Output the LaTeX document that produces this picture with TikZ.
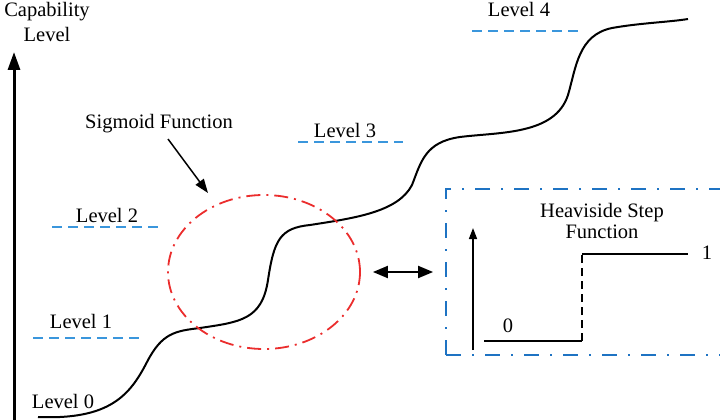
\documentclass[tikz,border=0pt]{standalone}
\usepackage{fontspec}
\setmainfont{Liberation Serif}
\usetikzlibrary{arrows.meta,shapes.geometric}
\definecolor{levelblue}{RGB}{58,150,220}
\definecolor{boxblue}{RGB}{30,115,195}
\definecolor{sigred}{RGB}{235,45,45}
\tikzset{
  lbl/.style={anchor=base, inner sep=0pt, font=\fontsize{20.5}{24}\selectfont},
  levelline/.style={levelblue, line width=1.4pt, dash pattern=on 10pt off 6pt},
  curveline/.style={black, line width=2pt},
  bigarrow/.style={line width=3pt, -{Triangle[length=18pt,width=12pt]}},
  pointer/.style={line width=1.5pt, -{Triangle[length=14pt,width=10pt]}},
  twoway/.style={line width=2pt, {Triangle[length=15pt,width=12pt]}-{Triangle[length=15pt,width=12pt]}},
  smallarrow/.style={line width=1.5pt, -{Triangle[length=11pt,width=8pt]}},
  stepline/.style={line width=1.6pt},
  sigzone/.style={ellipse, draw=sigred, line width=1.8pt, minimum width=192pt, minimum height=154pt,
    dash pattern=on 14pt off 6pt on 2pt off 6pt},
  stepbox/.style={rectangle, draw=boxblue, line width=1.8pt, minimum width=290pt, minimum height=166pt,
    dash pattern=on 15pt off 11pt on 2pt off 11pt}
}
\begin{document}
\begin{tikzpicture}[x=1pt, y=-1pt]
\useasboundingbox (0,0) rectangle (720,420);

% capability axis
\coordinate (axisbot) at (14,420);
\coordinate (axistop) at (14,52);
\draw[bigarrow] (axisbot) -- (axistop);
\node[lbl] (captitle) at (47,17) {Capability};
\node[lbl] (caplevel) at (47,42) {Level};

% level markers
\node[lbl] (l0) at (63,408) {Level 0};
\node[lbl] (l1) at (81,328) {Level 1};
\coordinate (l1a) at (33,338); \coordinate (l1b) at (140,338);
\draw[levelline] (l1a) -- (l1b);
\node[lbl] (l2) at (107,222) {Level 2};
\coordinate (l2a) at (52,227); \coordinate (l2b) at (158,227);
\draw[levelline] (l2a) -- (l2b);
\node[lbl] (l3) at (345,137) {Level 3};
\coordinate (l3a) at (298,142); \coordinate (l3b) at (403,142);
\draw[levelline] (l3a) -- (l3b);
\node[lbl] (l4) at (519,17) {Level 4};
\coordinate (l4a) at (472,31); \coordinate (l4b) at (578,31);
\draw[levelline] (l4a) -- (l4b);

% stepped capability curve
\draw[curveline] (38,417)
  .. controls (110,420) and (130,395) .. (147,362)
  .. controls (162,333) and (175,331) .. (200,328)
  .. controls (240,322) and (262,320) .. (268,280)
  .. controls (274,240) and (280,228) .. (310,225)
  .. controls (355,218) and (398,212) .. (412,185)
  .. controls (421,162) and (425,142) .. (460,137)
  .. controls (500,132) and (555,135) .. (568,95)
  .. controls (576,68) and (578,35) .. (612,28)
  .. controls (640,23) and (670,22) .. (688,19);

% sigmoid zone
\node[sigzone] (sig) at (264,272) {};
\node[lbl] (siglabel) at (159,128) {Sigmoid Function};
\coordinate (sigfrom) at (168,139);
\coordinate (sigto) at (208,193);
\draw[pointer] (sigfrom) -- (sigto);

% Heaviside step inset
\node[stepbox] (box) at (591,272) {};
\draw[twoway] ([xshift=12pt]sig.east) -- ([xshift=-12pt]box.west);
\node[lbl] (hstitle) at (602,217) {Heaviside Step};
\node[lbl] (hsfunc) at (602,238) {Function};
\coordinate (hsbot) at (473,350);
\coordinate (hstop) at (473,228);
\draw[smallarrow] (hsbot) -- (hstop);
\coordinate (s0a) at (484,341);
\coordinate (s0b) at (582,341);
\coordinate (s1a) at (582,254);
\coordinate (s1b) at (688,254);
\draw[stepline] (s0a) -- (s0b);
\draw[stepline, dash pattern=on 8pt off 5pt] (s0b) -- (s1a);
\draw[stepline] (s1a) -- (s1b);
\node[lbl] (zero) at (508,332) {0};
\node[lbl] (one) at (707,259) {1};
\end{tikzpicture}
\end{document}
